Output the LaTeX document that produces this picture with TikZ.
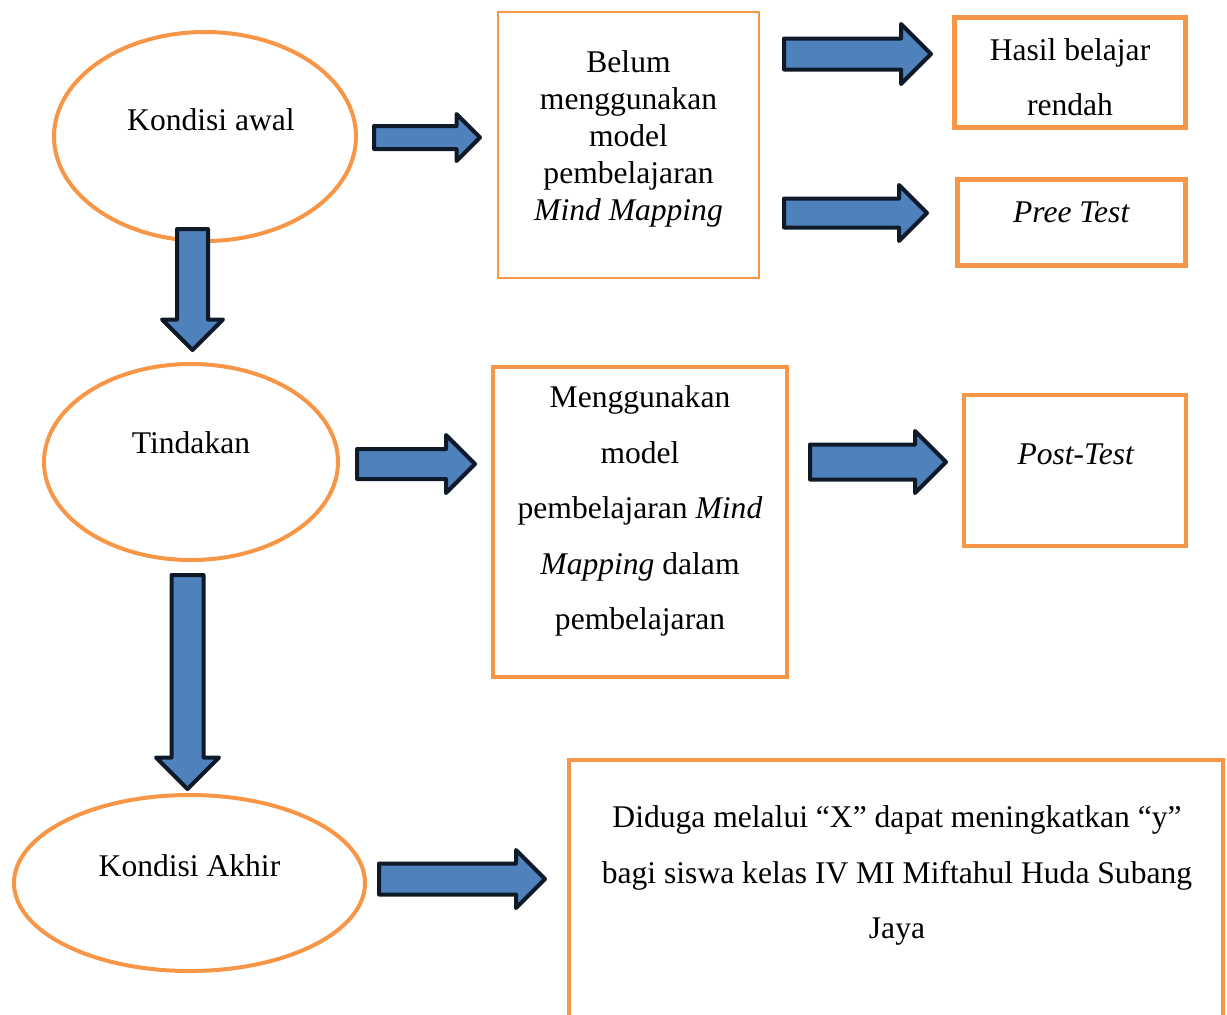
\documentclass[tikz,border=0pt]{standalone}
\usepackage{fontspec}
\setmainfont{Liberation Serif}
\usetikzlibrary{shapes.geometric}
\definecolor{oranye}{HTML}{F79646}
\definecolor{biru}{HTML}{4F81BD}
\definecolor{garis}{HTML}{0E1A28}
\newcommand{\sat}{0.38pt}
\tikzset{
  elips/.style={ellipse, draw=oranye, line width=4*\sat, inner sep=0pt},
  kotak/.style={rectangle, draw=oranye, inner sep=0pt},
  teks/.style={align=center, font=\fontsize{12}{14.06}\selectfont},
  teksrenggang/.style={align=center, font=\fontsize{12}{21.1}\selectfont},
  panah/.style={draw=garis, fill=biru, line width=4*\sat, line join=round},
  % panjang, setengah kepala, setengah batang
  pics/panahblok/.style n args={3}{code={
    \path[panah] (0,-#3) -- (#1-#2,-#3) -- (#1-#2,-#2) -- (#1,0)
      -- (#1-#2,#2) -- (#1-#2,#3) -- (0,#3) -- cycle;
  }}
}
\begin{document}
\begin{tikzpicture}[x=\sat, y=-\sat]
  \useasboundingbox (0,0) rectangle (1227,1014);
  % Elips kondisi
  \node at (205,136.5) (awal) [elips, minimum width=302*\sat, minimum height=209*\sat,
    label={[teks, xshift=6*\sat, yshift=16.5*\sat]center:Kondisi awal}] {};
  \node at (191,462) (tindakan) [elips, minimum width=294*\sat, minimum height=196*\sat,
    label={[teks, yshift=19*\sat]center:Tindakan}] {};
  \node at (189.5,883) (akhir) [elips, minimum width=351*\sat, minimum height=176*\sat,
    label={[teks, yshift=17*\sat]center:Kondisi Akhir}] {};
  % Kotak keterangan
  \node at (628.5,144.5) (belum) [kotak, line width=2*\sat, minimum width=261*\sat, minimum height=266*\sat,
    label={[teks, yshift=5.5*\sat]center:Belum\\ menggunakan\\ model\\ pembelajaran\\ \textit{Mind Mapping}}] {};
  \node at (1070,72.5) (rendah) [kotak, line width=5*\sat, minimum width=231*\sat, minimum height=110*\sat,
    label={[teksrenggang, yshift=-4.5*\sat]center:Hasil belajar\\ rendah}] {};
  \node at (1071.5,222.5) (pree) [kotak, line width=5*\sat, minimum width=228*\sat, minimum height=86*\sat,
    label={[teks, yshift=10.5*\sat]center:\textit{Pree Test}}] {};
  \node at (640,522) (pakai) [kotak, line width=4*\sat, minimum width=294*\sat, minimum height=310*\sat,
    label={[teksrenggang, yshift=11*\sat]center:Menggunakan\\ model\\ pembelajaran \textit{Mind}\\ \textit{Mapping} dalam\\ pembelajaran}] {};
  \node at (1075,470.5) (post) [kotak, line width=4*\sat, minimum width=222*\sat, minimum height=151*\sat,
    label={[teks, xshift=1*\sat, yshift=16.5*\sat]center:\textit{Post-Test}}] {};
  \node at (896,930) (duga) [kotak, line width=4*\sat, minimum width=654*\sat, minimum height=340*\sat,
    label={[teksrenggang, xshift=1*\sat, yshift=54.5*\sat]center:Diduga melalui “X” dapat meningkatkan “y”\\ bagi siswa kelas IV MI Miftahul Huda Subang\\ Jaya}] {};
  % Panah blok
  \pic (p1) at (374,137.5) {panahblok={106}{23.5}{11.5}};
  \pic (p2) at (784,54) {panahblok={147}{30}{15.5}};
  \pic (p3) at (784,213) {panahblok={143}{28}{14.5}};
  \pic (p4) at (357,464) {panahblok={118}{29}{15}};
  \pic (p5) at (810,462) {panahblok={136}{31}{17.5}};
  \pic (p6) at (379,879) {panahblok={166}{29}{15.5}};
  \pic (p7) [rotate=-90] at (192.5,229) {panahblok={121}{30.5}{15.5}};
  \pic (p8) [rotate=-90] at (187.5,575) {panahblok={214}{31.5}{16}};
\end{tikzpicture}
\end{document}
